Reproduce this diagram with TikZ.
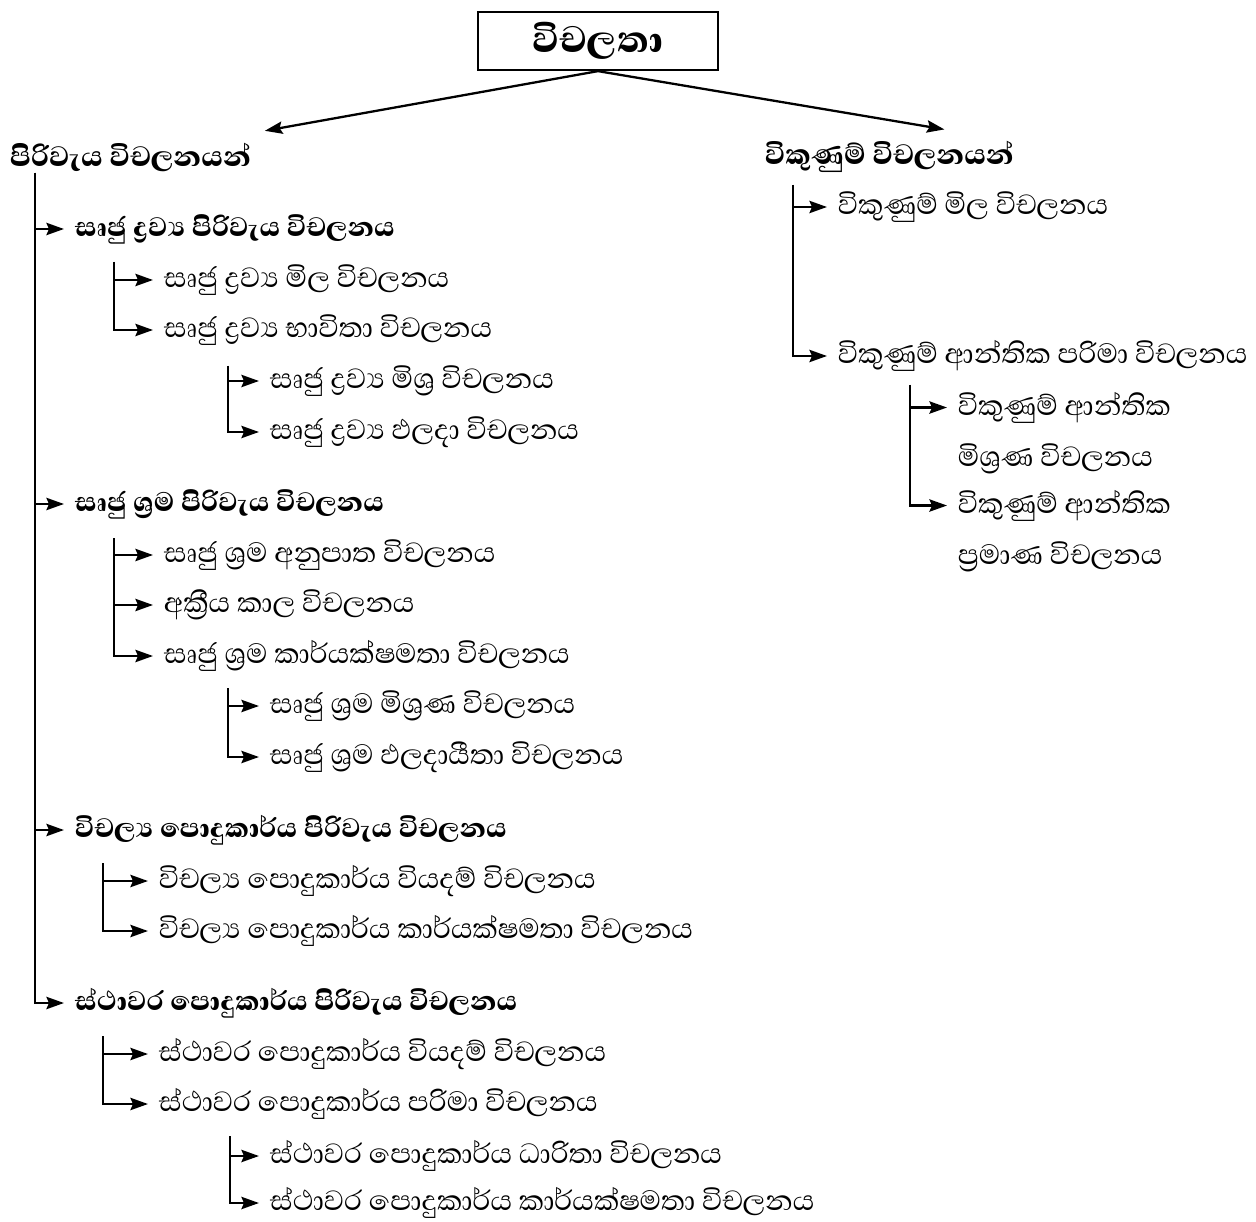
\documentclass[tikz,border=0pt]{standalone}
\usepackage{fontspec}
\setmainfont[Script=Sinhala, BoldFont={Abhaya Libre ExtraBold}]{Abhaya Libre}
\usepackage{tikz}
\usetikzlibrary{
  arrows.meta,
  calc
}
\newcommand{\zj}{^^^^200d}

\begin{document}
\begin{tikzpicture}[
  x=0.02cm, y=-0.02cm,
  title/.style={draw, line width=1.3pt, minimum width=4.8cm, minimum height=1.16cm,
                font=\fontsize{27}{30}\selectfont\bfseries},
  head/.style={anchor=west, inner sep=2pt, font=\fontsize{20.5}{22}\selectfont\bfseries},
  grp/.style={anchor=west, inner sep=2pt, font=\fontsize{19.5}{22}\selectfont\bfseries},
  item/.style={anchor=west, inner sep=2pt, align=left, font=\fontsize{20.3}{29}\selectfont},
  arrow/.style={-{Stealth[length=10pt,width=7pt,inset=1.5pt]}, line width=1.3pt},
  branch/.style={arrow, shorten >=4pt},
]
  \useasboundingbox (0,0) rectangle (1256,1222);

  % Title
  \node[title] (var) at (598,41) {විචලතා};
  \node[head] (cost)  at (6,157)   {පිරිවැය විචලනයන්};
  \node[head] (sales) at (761,157) {විකුණුම් විචලනයන්};
  \draw[arrow] (var.south) -- ($(cost.north east)+(10,-8)$);
  \draw[arrow] (var.south) -- ($(sales.north)+(55,-8)$);

  % Cost variances
  \node[grp] (dm)  at (71,229)  {සෘජු ද්\zj රව්\zj ය පිරිවැය විචලනය};
  \node[grp] (dl)  at (71,504)  {සෘජු ශ්\zj රම පිරිවැය විචලනය};
  \node[grp] (voh) at (71,830)  {විචල්\zj ය පොදුකාර්ය පිරිවැය විචලනය};
  \node[grp] (foh) at (71,1003) {ස්ථාවර පොදුකාර්ය පිරිවැය විචලනය};
  \coordinate (ct) at (35,173);
  \foreach \n in {dm,dl,voh,foh}
    \draw[branch] (ct) |- (\n.west);

  % Direct material
  \node[item] (dmp) at (160,280) {සෘජු ද්\zj රව්\zj ය මිල විචලනය};
  \node[item] (dmu) at (160,330) {සෘජු ද්\zj රව්\zj ය භාවිතා විචලනය};
  \node[item] (dmm) at (266,381) {සෘජු ද්\zj රව්\zj ය මිශ්\zj ර විචලනය};
  \node[item] (dmy) at (266,432) {සෘජු ද්\zj රව්\zj ය ඵලදා විචලනය};
  \coordinate (t1)  at (114,262);
  \coordinate (t1b) at (228,366);
  \draw[branch] (t1) |- (dmp.west);
  \draw[branch] (t1) |- (dmu.west);
  \draw[branch] (t1b) |- (dmm.west);
  \draw[branch] (t1b) |- (dmy.west);

  % Direct labour
  \node[item] (dlr) at (160,555) {සෘජු ශ්\zj රම අනුපාත විචලනය};
  \node[item] (dli) at (160,605) {අක්\zj රීය කාල විචලනය};
  \node[item] (dle) at (160,656) {සෘජු ශ්\zj රම කාර්යක්ෂමතා විචලනය};
  \node[item] (dlm) at (266,706) {සෘජු ශ්\zj රම මිශ්\zj රණ විචලනය};
  \node[item] (dly) at (266,757) {සෘජු ශ්\zj රම ඵලදායීතා විචලනය};
  \coordinate (t2)  at (114,538);
  \coordinate (t2b) at (228,688);
  \foreach \n in {dlr,dli,dle}
    \draw[branch] (t2) |- (\n.west);
  \draw[branch] (t2b) |- (dlm.west);
  \draw[branch] (t2b) |- (dly.west);

  % Variable overhead
  \node[item] (vohs) at (155,881) {විචල්\zj ය පොදුකාර්ය වියදම් විචලනය};
  \node[item] (vohe) at (155,931) {විචල්\zj ය පොදුකාර්ය කාර්යක්ෂමතා විචලනය};
  \coordinate (t3) at (103,863);
  \draw[branch] (t3) |- (vohs.west);
  \draw[branch] (t3) |- (vohe.west);

  % Fixed overhead
  \node[item] (fohs) at (155,1054) {ස්ථාවර පොදුකාර්ය වියදම් විචලනය};
  \node[item] (fohv) at (155,1104) {ස්ථාවර පොදුකාර්ය පරිමා විචලනය};
  \node[item] (fohc) at (266,1156) {ස්ථාවර පොදුකාර්ය ධාරිතා විචලනය};
  \node[item] (fohe) at (266,1203) {ස්ථාවර පොදුකාර්ය කාර්යක්ෂමතා විචලනය};
  \coordinate (t4)  at (103,1036);
  \coordinate (t4b) at (230,1136);
  \draw[branch] (t4) |- (fohs.west);
  \draw[branch] (t4) |- (fohv.west);
  \draw[branch] (t4b) |- (fohc.west);
  \draw[branch] (t4b) |- (fohe.west);

  % Sales variances
  \node[item] (sp)  at (834,207) {විකුණුම් මිල විචලනය};
  \node[item] (sv)  at (834,356) {විකුණුම් ආන්තික පරිමා විචලනය};
  \node[item] (svm) at (954,433) {විකුණුම් ආන්තික\\මිශ්\zj රණ විචලනය};
  \node[item] (svq) at (954,531) {විකුණුම් ආන්තික\\ප්\zj රමාණ විචලනය};
  \coordinate (rt)  at (793,185);
  \coordinate (rtb) at (910,385);
  \draw[branch] (rt) |- (sp.west);
  \draw[branch] (rt) |- (sv.west);
  \draw[branch] (rtb) |- ([yshift=14.5pt]svm.west);
  \draw[branch] (rtb) |- ([yshift=14.5pt]svq.west);
\end{tikzpicture}
\end{document}
